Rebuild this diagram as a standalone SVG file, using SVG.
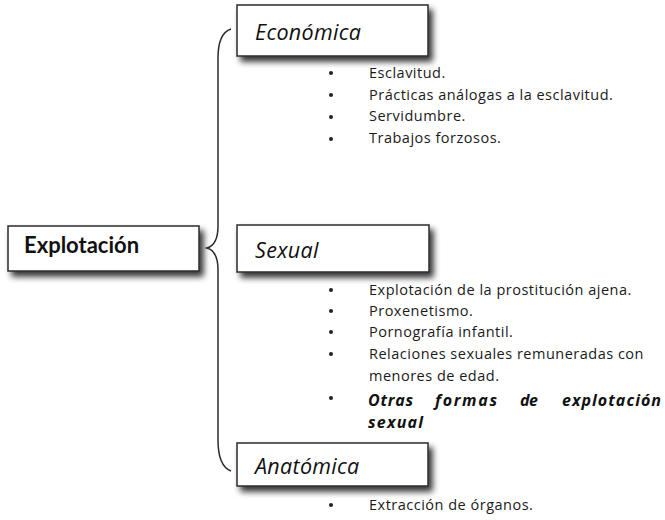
<svg xmlns="http://www.w3.org/2000/svg" width="665" height="520" viewBox="0 0 665 520">
<defs>
<filter id="sh" x="-10%" y="-20%" width="130%" height="160%">
<feGaussianBlur in="SourceAlpha" stdDeviation="3.2"/>
<feOffset dx="4" dy="5" result="b"/>
<feComponentTransfer><feFuncA type="linear" slope="0.8"/></feComponentTransfer>
<feMerge><feMergeNode/><feMergeNode in="SourceGraphic"/></feMerge>
</filter>
</defs>
<style>
.box{fill:#fff;stroke:#2b2b2b;stroke-width:1.5;filter:url(#sh)}
.title{font-family:"Open Sans",sans-serif;font-style:italic;font-size:21.5px;letter-spacing:0.3px;fill:#111}
.main{font-family:"Lato","Open Sans",sans-serif;font-weight:bold;font-size:22px;fill:#111}
.item{font-family:"Open Sans",sans-serif;font-size:14.5px;letter-spacing:0.5px;fill:#1a1a1a}
.bi{font-family:"Open Sans",sans-serif;font-size:16px;font-weight:bold;font-style:italic;fill:#111}
.bul{fill:#222}
.conn{fill:none;stroke:#2b2b2b;stroke-width:1.5}
</style>
<g id="connectors">
<path class="conn" d="M231,29 C222,32 218,42 218,58 L218,226 C218,240 214,246 207,248 C214,250 218,256 218,270 L218,440 C218,458 223,468 231,471"/>
</g>
<g id="explotacion">
<rect class="box" x="8" y="226" width="191" height="45"/>
<text class="main" x="24" y="253">Explotación</text>
</g>
<g id="economica">
<rect class="box" x="237" y="5" width="191" height="51"/>
<text class="title" x="255" y="40">Económica</text>
<g class="item">
<circle class="bul" cx="331" cy="73" r="2"/><text x="369" y="78">Esclavitud.</text>
<circle class="bul" cx="331" cy="95" r="2"/><text x="369" y="99.5">Prácticas análogas a la esclavitud.</text>
<circle class="bul" cx="331" cy="117" r="2"/><text x="369" y="121">Servidumbre.</text>
<circle class="bul" cx="331" cy="139" r="2"/><text x="369" y="142.5">Trabajos forzosos.</text>
</g>
</g>
<g id="sexual">
<rect class="box" x="237" y="225" width="192" height="47"/>
<text class="title" x="255" y="258">Sexual</text>
<g class="item">
<circle class="bul" cx="331" cy="290" r="2"/><text x="369" y="295">Explotación de la prostitución ajena.</text>
<circle class="bul" cx="331" cy="311" r="2"/><text x="369" y="316">Proxenetismo.</text>
<circle class="bul" cx="331" cy="332" r="2"/><text x="369" y="337">Pornografía infantil.</text>
<circle class="bul" cx="331" cy="354" r="2"/><text x="369" y="359">Relaciones sexuales remuneradas con</text>
<text x="369" y="381">menores de edad.</text>
<circle class="bul" cx="331" cy="398" r="2"/>
</g>
<text class="bi" x="368" y="406" textLength="45" lengthAdjust="spacing">Otras</text>
<text class="bi" x="435" y="406" textLength="62" lengthAdjust="spacing">formas</text>
<text class="bi" x="520" y="406" textLength="18" lengthAdjust="spacing">de</text>
<text class="bi" x="562" y="406" textLength="99" lengthAdjust="spacing">explotación</text>
<text class="bi" x="368" y="428" textLength="55" lengthAdjust="spacing">sexual</text>
</g>
<g id="anatomica">
<rect class="box" x="237" y="443" width="191" height="43"/>
<text class="title" x="255" y="474">Anatómica</text>
<g class="item">
<circle class="bul" cx="331" cy="505" r="2"/><text x="369" y="510">Extracción de órganos.</text>
</g>
</g>
</svg>
